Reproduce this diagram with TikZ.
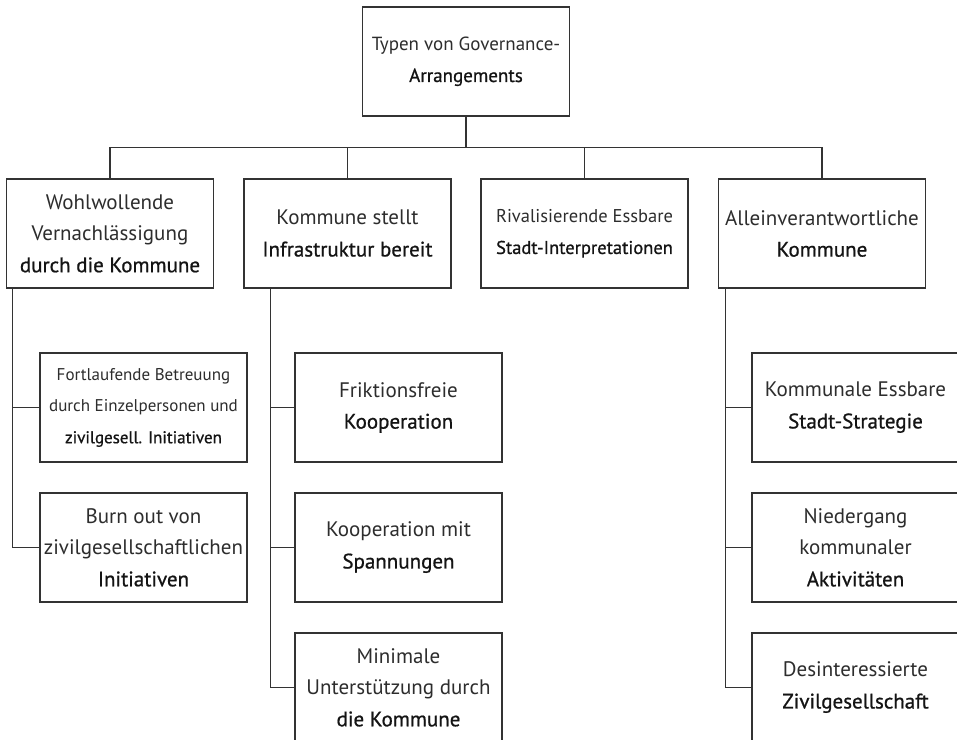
\documentclass[tikz,border=0pt]{standalone}
\usepackage{fontspec}
\setmainfont{PT Sans}
\newfontfamily\strongfont{PT Sans}[FakeBold=0.8]
\usetikzlibrary{calc}
\definecolor{ChartLine}{RGB}{51,51,51}
\definecolor{ChartText}{RGB}{45,45,45}
\definecolor{ChartStrong}{RGB}{20,20,20}

\newcommand{\lastrow}[1]{{\strongfont\color{ChartStrong}#1}}

\begin{document}
\begin{tikzpicture}[x=1bp,y=-1bp,line join=miter]
  \path[use as bounding box] (0,0) rectangle (957,740);
  \fill[white] (0,0) rectangle (957,740);

  \tikzset{
    box/.style={draw=ChartLine,line width=1.3bp,fill=white,inner sep=0pt,
      minimum width=207bp,minimum height=109bp,align=center,text=ChartText,
      font=\fontsize{21bp}{31.5bp}\selectfont},
    rootbox/.style={box,font=\fontsize{19bp}{31.5bp}\selectfont},
    smallbox/.style={box,font=\fontsize{18.5bp}{31.5bp}\selectfont},
    tinybox/.style={box,font=\fontsize{17bp}{31.5bp}\selectfont},
    link/.style={draw=ChartLine,line width=1.3bp},
  }

  % Root
  \node[rootbox] (root) at (466,61.5) {Typen von Governance-\\\lastrow{Arrangements}};

  % ==================== EBENE 1 ====================
  \node[box] (wohl) at (110,233.5) {Wohlwollende\\Vernachlässigung\\\lastrow{durch die Kommune}};
  \node[box] (infra) at (347.5,233.5) {Kommune stellt\\\lastrow{Infrastruktur bereit}};
  \node[smallbox] (rival) at (584.5,233.5) {Rivalisierende Essbare\\\lastrow{Stadt-Interpretationen}};
  \node[box] (allein) at (822,233.5) {Alleinverantwortliche\\\lastrow{Kommune}};

  % ==================== EBENE 2 ====================
  \node[tinybox] (fort) at (143.5,407.5) {Fortlaufende Betreuung\\durch Einzelpersonen und\\\lastrow{zivilgesell. Initiativen}};
  \node[box] (burn) at (143.5,547.5) {Burn out von\\zivilgesellschaftlichen\\\lastrow{Initiativen}};

  \node[box] (frik) at (398.5,407.5) {Friktionsfreie\\\lastrow{Kooperation}};
  \node[box] (span) at (398.5,547.5) {Kooperation mit\\\lastrow{Spannungen}};
  \node[box] (mini) at (398.5,687.5) {Minimale\\Unterstützung durch\\\lastrow{die Kommune}};

  \node[box] (strat) at (855.5,407.5) {Kommunale Essbare\\\lastrow{Stadt-Strategie}};
  \node[box] (nieder) at (855.5,547.5) {Niedergang\\kommunaler\\\lastrow{Aktivitäten}};
  \node[box] (desint) at (855.5,687.5) {Desinteressierte\\\lastrow{Zivilgesellschaft}};

  % Verbindungen Root -> Ebene 1
  \coordinate (bar) at ($(root.south)+(0,31)$);
  \foreach \n in {wohl,infra,rival,allein} {
    \draw[link] (root.south) -- (bar) -| (\n.north);
  }

  % Verbindungen Ebene 1 -> Ebene 2
  \foreach \p/\dx/\c in {wohl/7/fort,wohl/7/burn,infra/27/frik,infra/27/span,infra/27/mini,
      allein/7.5/strat,allein/7.5/nieder,allein/7.5/desint} {
    \draw[link] ([xshift=\dx bp]\p.south west) |- (\c.west);
  }

\end{tikzpicture}
\end{document}
